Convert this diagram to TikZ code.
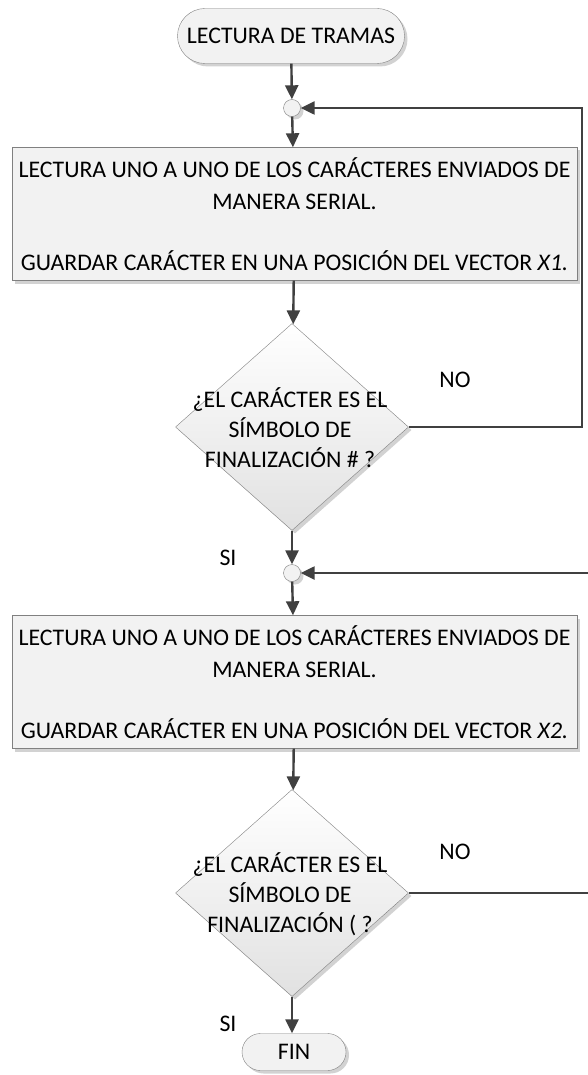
\documentclass[tikz,border=0pt]{standalone}
\usepackage{fontspec}
\setmainfont{Carlito}
\usetikzlibrary{arrows.meta, shapes.geometric, shapes.misc, shadows}
\definecolor{lineColor}{HTML}{404040}
\definecolor{edgeColor}{HTML}{808080}
\definecolor{boxFill}{HTML}{F2F2F2}

\begin{document}
\begin{tikzpicture}[x=1pt, y=-1pt,
    every node/.style={font=\fontsize{23.8}{32}\selectfont},
    shade/.style={drop shadow={shadow xshift=3pt, shadow yshift=-3pt, fill=black!22, opacity=0.8}},
    term/.style={rounded rectangle, draw=edgeColor, fill=boxFill, shade, inner sep=0pt},
    proc/.style={rectangle, draw=edgeColor, fill=boxFill, shade, minimum width=565pt, minimum height=133pt, align=center, inner sep=0pt},
    decision/.style={diamond, draw=edgeColor, top color=white, bottom color=boxFill!93!black, shade, minimum width=233pt, minimum height=207pt, inner sep=0pt},
    question/.style={align=center, font=\fontsize{23.8}{30}\selectfont},
    junc/.style={circle, draw=edgeColor, fill=boxFill, shade, minimum size=17pt, inner sep=0pt},
    flow/.style={draw=lineColor, line width=2.4pt, -{Triangle[length=14pt, width=13pt]}},
    link/.style={draw=lineColor, line width=2.2pt}]
    \useasboundingbox (0,0) rectangle (588,1075);

    \node[term, minimum width=227pt, minimum height=55pt] (start) at (291,36) {LECTURA DE TRAMAS};
    \node[junc] (j1) at (292,108) {};
    \node[proc] (read1) at (294.5,214) {LECTURA UNO A UNO DE LOS CARÁCTERES ENVIADOS DE\\
        MANERA SERIAL.\\[29pt]
        GUARDAR CARÁCTER EN UNA POSICIÓN DEL VECTOR \textit{X1.}};
    \node[decision] (d1) at (292,427) {};
    \node[question] (q1) at (290,428) {¿EL CARÁCTER ES EL\\SÍMBOLO DE\\FINALIZACIÓN \# ?};
    \node (no1) at (455,380) {NO};
    \node (si1) at (228,558) {SI};
    \node[junc] (j2) at (292,573) {};
    \node[proc] (read2) at (294.5,682) {LECTURA UNO A UNO DE LOS CARÁCTERES ENVIADOS DE\\
        MANERA SERIAL.\\[29pt]
        GUARDAR CARÁCTER EN UNA POSICIÓN DEL VECTOR \textit{X2.}};
    \node[decision] (d2) at (292,893) {};
    \node[question] (q2) at (290,894) {¿EL CARÁCTER ES EL\\SÍMBOLO DE\\FINALIZACIÓN ( ?};
    \node (no2) at (455,852) {NO};
    \node (si2) at (228,1024) {SI};
    \node[term, minimum width=104pt, minimum height=37pt] (fin) at (294,1052) {FIN};

    \coordinate (loop1) at (582,108);
    \coordinate (edge2) at (588,573);
    \coordinate (edge3) at (588,893);

    % main flow
    \draw[flow] (start) -- (j1);
    \draw[flow] (j1) -- (read1);
    \draw[flow] (read1) -- (d1);
    \draw[flow] (d1.south) -- (j2);
    \draw[flow] (j2) -- (read2);
    \draw[flow] (read2) -- (d2);
    \draw[flow] (d2.south) -- (fin.north -| d2.south);
    % loops back
    \draw[flow] (d1.east) -| (loop1) -- (j1);
    \draw[flow] (edge2) -- (j2);
    \draw[link] (d2.east) -- (edge3);
\end{tikzpicture}
\end{document}
